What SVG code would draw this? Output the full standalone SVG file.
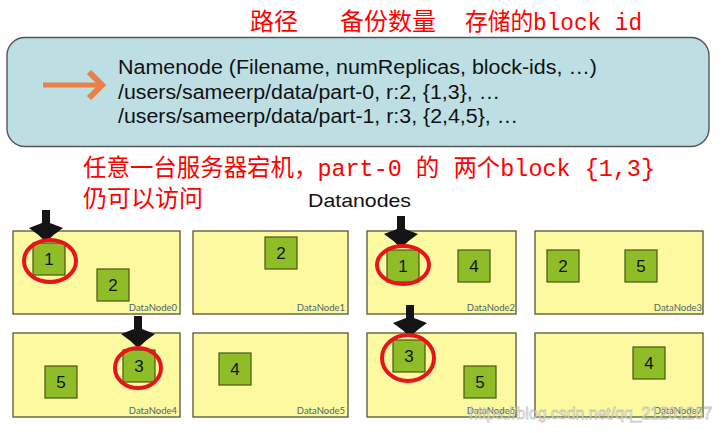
<svg xmlns="http://www.w3.org/2000/svg" xmlns:xlink="http://www.w3.org/1999/xlink" width="722" height="433" viewBox="0 0 722 433">
<style>
.red{fill:#ff0000;font-family:"Liberation Mono","Noto Sans CJK SC",monospace;font-size:24px}
.nn{fill:#111;font-family:"Liberation Sans",Arial,sans-serif;font-size:19.5px}
.dn{fill:#fcf9a0;stroke:#5a5530;stroke-width:1.3}
.blk{fill:#8fbd28;stroke:#4a5512;stroke-width:1.2}
.num{fill:#111;font-family:"Liberation Sans",Arial,sans-serif;font-size:17px;text-anchor:middle}
.lbl{fill:#4a6868;font-family:"Lato","Liberation Sans",sans-serif;font-size:9.5px;text-anchor:end}
.ring{fill:none;stroke:#e8141c;stroke-width:4}
.arr{fill:#141414}
</style>
<defs>
<path id="arr" d="M-4,-32 L4,-32 L4,-19 L17,-14 Q8,-8 0,0 Q-8,-8 -17,-14 L-4,-19 Z"/>
</defs>
<rect width="722" height="433" fill="#ffffff"/>

<g id="annot-top">
<text class="red" x="250" y="30">路径</text>
<text class="red" x="340" y="30">备份数量</text>
<text class="red" x="465" y="30" textLength="177" lengthAdjust="spacingAndGlyphs">存储的block id</text>
</g>

<g id="namenode">
<rect x="7" y="37.5" width="702" height="109" rx="18" ry="18" fill="#bddfe3" stroke="#555" stroke-width="1.4"/>
<text class="nn" x="118" y="74" textLength="479" lengthAdjust="spacingAndGlyphs">Namenode (Filename, numReplicas, block-ids, …)</text>
<text class="nn" x="118" y="99" textLength="382" lengthAdjust="spacingAndGlyphs">/users/sameerp/data/part-0, r:2, {1,3}, …</text>
<text class="nn" x="118" y="123" textLength="400" lengthAdjust="spacingAndGlyphs">/users/sameerp/data/part-1, r:3, {2,4,5}, …</text>
</g>

<g id="annot-mid">
<text class="red" x="83" y="176" textLength="572" lengthAdjust="spacingAndGlyphs">任意一台服务器宕机，part-0 的 两个block {1,3}</text>
<text class="red" x="83" y="207">仍可以访问</text>
</g>

<text id="datanodes-title" x="308" y="207" fill="#111" font-family="Liberation Sans, Arial, sans-serif" font-size="19" textLength="103" lengthAdjust="spacingAndGlyphs">Datanodes</text>

<g id="dn0">
<rect class="dn" x="13" y="231" width="167" height="83"/>
<rect class="blk" x="33" y="243" width="32" height="32"/><text class="num" x="49" y="265">1</text>
<rect class="blk" x="97" y="269" width="32" height="32"/><text class="num" x="113" y="291">2</text>
<text class="lbl" x="177" y="311">DataNode0</text>
</g>
<g id="dn1">
<rect class="dn" x="193" y="231" width="155" height="83"/>
<rect class="blk" x="265" y="237" width="32" height="32"/><text class="num" x="281" y="259">2</text>
<text class="lbl" x="345" y="311">DataNode1</text>
</g>
<g id="dn2">
<rect class="dn" x="367" y="231" width="149" height="83"/>
<rect class="blk" x="387" y="250" width="32" height="32"/><text class="num" x="403" y="272">1</text>
<rect class="blk" x="458" y="250" width="32" height="32"/><text class="num" x="474" y="272">4</text>
<text class="lbl" x="515" y="311">DataNode2</text>
</g>
<g id="dn3">
<rect class="dn" x="535" y="231" width="168" height="83"/>
<rect class="blk" x="547" y="250" width="32" height="32"/><text class="num" x="563" y="272">2</text>
<rect class="blk" x="625" y="250" width="32" height="32"/><text class="num" x="641" y="272">5</text>
<text class="lbl" x="702" y="311">DataNode3</text>
</g>
<g id="dn4">
<rect class="dn" x="13" y="333" width="167" height="84"/>
<rect class="blk" x="45" y="366" width="32" height="32"/><text class="num" x="61" y="388">5</text>
<rect class="blk" x="123" y="350" width="32" height="32"/><text class="num" x="139" y="372">3</text>
<text class="lbl" x="177" y="414">DataNode4</text>
</g>
<g id="dn5">
<rect class="dn" x="193" y="333" width="155" height="84"/>
<rect class="blk" x="219" y="353" width="32" height="32"/><text class="num" x="235" y="375">4</text>
<text class="lbl" x="345" y="414">DataNode5</text>
</g>
<g id="dn6">
<rect class="dn" x="367" y="333" width="149" height="84"/>
<rect class="blk" x="393" y="340" width="32" height="32"/><text class="num" x="409" y="362">3</text>
<rect class="blk" x="464" y="366" width="32" height="32"/><text class="num" x="480" y="388">5</text>
<text class="lbl" x="515" y="414">DataNode6</text>
</g>
<g id="dn7">
<rect class="dn" x="535" y="333" width="168" height="84"/>
<rect class="blk" x="633" y="347" width="32" height="32"/><text class="num" x="649" y="369">4</text>
<text class="lbl" x="702" y="414">DataNode7</text>
</g>

<g id="connectors">
<g fill="none" stroke="#e8804a" stroke-width="5">
<line x1="43" y1="85" x2="100" y2="85"/>
<polyline points="89,72 102,85 89,98" stroke-width="6"/>
</g>
<use href="#arr" xlink:href="#arr" class="arr" x="46" y="242"/>
<use href="#arr" xlink:href="#arr" class="arr" x="401" y="248"/>
<use href="#arr" xlink:href="#arr" class="arr" x="138" y="348"/>
<use href="#arr" xlink:href="#arr" class="arr" x="410" y="337"/>
</g>

<g id="highlights">
<ellipse class="ring" cx="50" cy="261" rx="26" ry="21"/>
<ellipse class="ring" cx="403" cy="265" rx="26" ry="19"/>
<ellipse class="ring" cx="138" cy="368" rx="23" ry="20"/>
<ellipse class="ring" cx="408" cy="358" rx="26" ry="23"/>
</g>

<text id="watermark" x="469" y="419" font-family="Liberation Sans, Arial, sans-serif" font-size="16" fill="#ffffff" fill-opacity="0.75" stroke="#8a8a8a" stroke-opacity="0.5" stroke-width="0.8" textLength="243" lengthAdjust="spacingAndGlyphs">https://blog.csdn.net/qq_21201267</text>
</svg>
